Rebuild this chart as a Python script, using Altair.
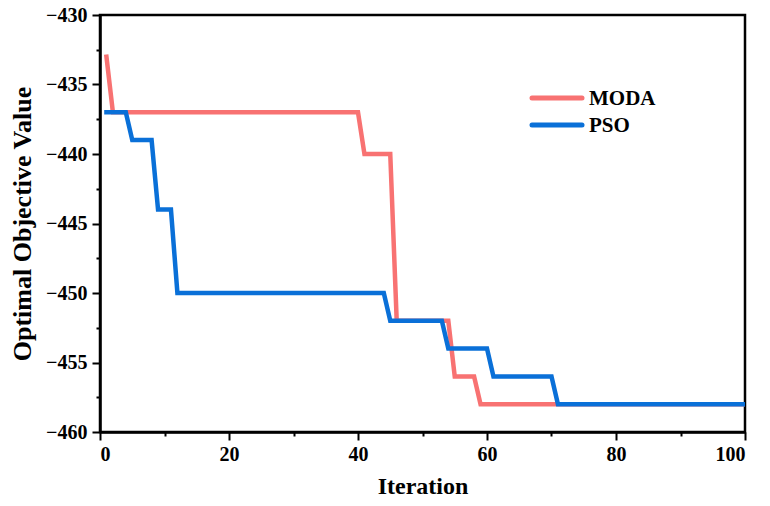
import altair as alt
import pandas as pd

# Vertices of the convergence curves (iteration, best objective value)
moda_iter = [1, 2, 40, 41, 45, 46, 54, 55, 58, 59, 100]
moda_val = [-433, -437, -437, -440, -440, -452, -452, -456, -456, -458, -458]

pso_iter = [1, 4, 5, 8, 9, 11, 12, 44, 45, 53, 54, 60, 61, 70, 71, 100]
pso_val = [-437, -437, -439, -439, -444, -444, -450, -450, -452, -452, -454, -454, -456, -456, -458, -458]

series_names = ["MODA", "PSO"]
series_colors = ["#F87272", "#0A70D8"]

x_ticks = [0, 10, 20, 30, 40, 50, 60, 70, 80, 90, 100]
y_ticks = [-460, -457.5, -455, -452.5, -450, -447.5, -445, -442.5, -440, -437.5, -435, -432.5, -430]

df = pd.concat([
    pd.DataFrame({"Iteration": moda_iter, "Value": moda_val, "Method": "MODA"}),
    pd.DataFrame({"Iteration": pso_iter, "Value": pso_val, "Method": "PSO"}),
])

FONT = "Liberation Serif"

lines = (
    alt.Chart(df)
    .mark_line(strokeWidth=4.5, strokeCap="square", strokeJoin="miter", clip=True)
    .encode(
        x=alt.X(
            "Iteration:Q",
            scale=alt.Scale(domain=[0, 100], nice=False, zero=False),
            axis=alt.Axis(
                title="Iteration",
                values=x_ticks,
                labelExpr="datum.value % 20 === 0 ? datum.label : ''",
                tickSize={"condition": {"test": "datum.value % 20 === 0", "value": 8}, "value": 4},
                grid=False,
                labelPadding=4,
                titlePadding=10,
            ),
        ),
        y=alt.Y(
            "Value:Q",
            scale=alt.Scale(domain=[-460, -430], nice=False, zero=False),
            axis=alt.Axis(
                title="Optimal Objective Value",
                values=y_ticks,
                labelExpr="datum.value % 5 === 0 ? format(datum.value, 'd') : ''",
                tickSize={"condition": {"test": "datum.value % 5 === 0", "value": 8}, "value": 4},
                grid=False,
                labelPadding=5,
                titlePadding=10,
                titleFontSize=26,
            ),
        ),
        color=alt.Color(
            "Method:N",
            scale=alt.Scale(domain=series_names, range=series_colors),
            legend=None,
        ),
    )
)

# Hand-placed legend inside the plot area: a short line swatch plus label per series
legend_layers = []
for i, (name, col) in enumerate(zip(series_names, series_colors)):
    row_y = 83 + 27 * i
    src = alt.Chart(pd.DataFrame({"Method": [name]}))
    swatch = src.mark_rule(color=col, strokeWidth=5, strokeCap="round").encode(
        x=alt.value(432), x2=alt.value(482), y=alt.value(row_y)
    )
    label = src.mark_text(
        align="left", baseline="middle", font=FONT, fontWeight="bold",
        fontSize=21, color="black", dy=1,
    ).encode(x=alt.value(489), y=alt.value(row_y), text="Method:N")
    legend_layers += [swatch, label]

chart = (
    alt.layer(lines, *legend_layers)
    .properties(
        width=645,
        height=417,
        autosize=alt.AutoSizeParams(type="none"),
        padding={"left": 100, "top": 15, "right": 25, "bottom": 74},
        background="white",
    )
    .configure_view(stroke="black", strokeWidth=2.5)
    .configure_axis(
        domainColor="black",
        domainWidth=2.5,
        tickColor="black",
        tickWidth=2,
        labelFont=FONT,
        labelFontWeight="bold",
        labelFontSize=20,
        labelColor="black",
        titleFont=FONT,
        titleFontWeight="bold",
        titleFontSize=24,
        titleColor="black",
    )
)

chart.save("out.html", embed_options={"renderer": "svg", "actions": False})
